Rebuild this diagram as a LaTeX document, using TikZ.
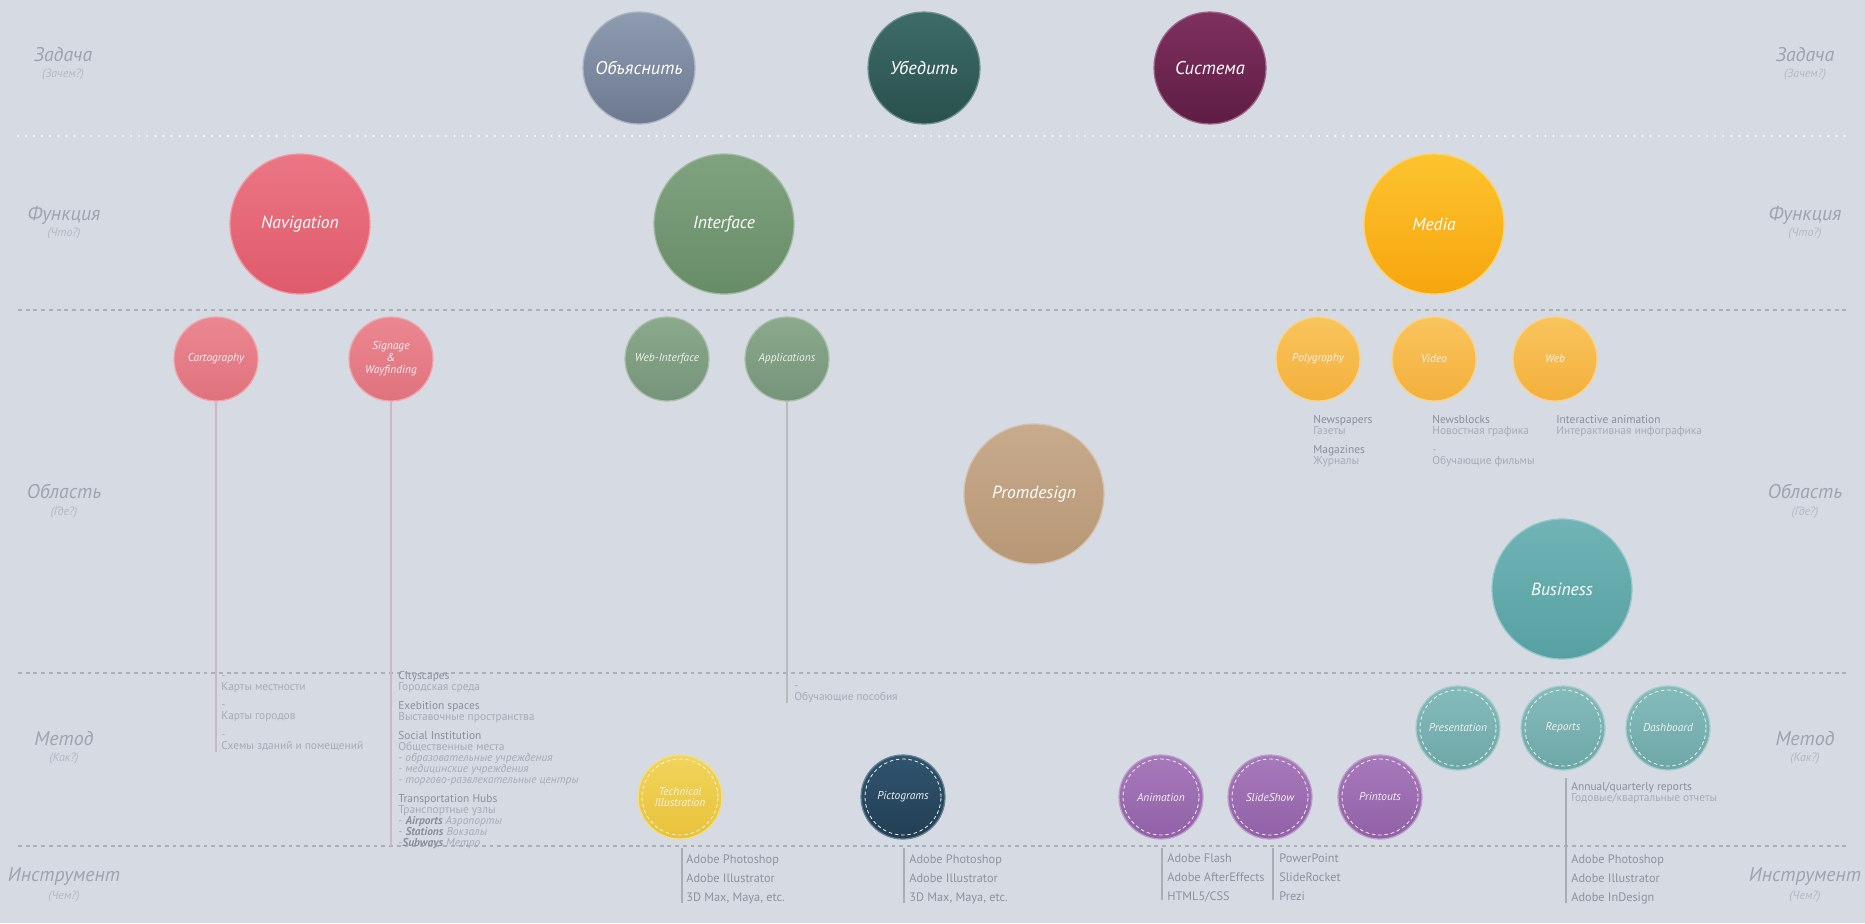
\documentclass[tikz,border=0pt]{standalone}
\usepackage{fontspec}
\setmainfont{PT Sans}
\definecolor{bg}{HTML}{D5DAE3}
\definecolor{labgray}{HTML}{9FA3AF}
\definecolor{subgray}{HTML}{B4B8C3}
\definecolor{hdgray}{HTML}{8B8F9B}
\definecolor{ltgray}{HTML}{A7ABB6}
\definecolor{toolgray}{HTML}{8E929F}
\definecolor{sepgray}{HTML}{AAAFBA}
\definecolor{navline}{HTML}{CDB6C2}
\definecolor{appline}{HTML}{B7BCB8}
\definecolor{toolline}{HTML}{A9ADB8}
\definecolor{explT}{HTML}{8F9BAF}\definecolor{explB}{HTML}{6C798F}
\definecolor{convT}{HTML}{3D6C68}\definecolor{convB}{HTML}{29504D}
\definecolor{sysT}{HTML}{7F305F}\definecolor{sysB}{HTML}{5E1D44}
\definecolor{navT}{HTML}{EB7684}\definecolor{navB}{HTML}{DF5A6B}
\definecolor{ifT}{HTML}{80A37F}\definecolor{ifB}{HTML}{678C68}
\definecolor{medT}{HTML}{FCC42E}\definecolor{medB}{HTML}{F7A50E}
\definecolor{pinkT}{HTML}{EB8791}\definecolor{pinkB}{HTML}{DF727D}
\definecolor{grnT}{HTML}{8BA98B}\definecolor{grnB}{HTML}{75947A}
\definecolor{orT}{HTML}{F9C45C}\definecolor{orB}{HTML}{F3B03C}
\definecolor{promT}{HTML}{C7AB8D}\definecolor{promB}{HTML}{B79775}
\definecolor{bizT}{HTML}{70B4B5}\definecolor{bizB}{HTML}{57A0A2}
\definecolor{tealT}{HTML}{85BBBB}\definecolor{tealB}{HTML}{6EA7A8}
\definecolor{yelT}{HTML}{F1D55A}\definecolor{yelB}{HTML}{E8C23B}
\definecolor{navyT}{HTML}{30556F}\definecolor{navyB}{HTML}{223E54}
\definecolor{purT}{HTML}{A77ABB}\definecolor{purB}{HTML}{9160A7}
\tikzset{
  circ/.style={circle, inner sep=0pt, text=white, align=center},
  grad/.style 2 args={top color=#1, bottom color=#2, draw=#1!75!white, line width=0.7pt},
  taskcirc/.style={circ, minimum size=2.24cm, font=\fontsize{10.5}{12}\selectfont\itshape},
  bigcirc/.style={circ, minimum size=2.8cm, font=\fontsize{10}{12}\selectfont\itshape},
  smallcirc/.style={circ, minimum size=1.68cm, font=\fontsize{6.5}{6.8}\selectfont\itshape, text=white!88!gray},
  stitched/.style={smallcirc, path picture={\draw[white!90!gray, line width=0.45pt, dash pattern=on 2pt off 1.6pt] (path picture bounding box.center) circle (0.76cm);}},
  rowlab/.style={font=\fontsize{11.3}{13}\selectfont\itshape, text=labgray, inner sep=0pt},
  rowsub/.style={font=\fontsize{6.8}{8}\selectfont\itshape, text=subgray, inner sep=0pt},
  sep/.style={sepgray, line width=0.6pt, dash pattern=on 2.2pt off 2.2pt},
  detail/.style={anchor=north west, inner sep=0pt, align=left, text=ltgray, font=\fontsize{6.5}{6.26}\selectfont},
  tools/.style={anchor=north west, inner sep=0pt, align=left, text=toolgray, font=\fontsize{7}{10.8}\selectfont},
}
\newcommand\hd[1]{{\color{hdgray}#1}}
\newcommand\gp{\\[4.5pt]}
\begin{document}
\begin{tikzpicture}[x=0.02cm,y=-0.02cm]
\fill[bg] (0,0) rectangle (1865,923);
\useasboundingbox (0,0) rectangle (1865,923);

% separators
\draw[white, line width=1.3pt, line cap=round, dash pattern=on 0pt off 4.6pt] (18,136) -- (1850,136);
\draw[sep] (18,310) -- (1850,310);
\draw[sep] (18,673) -- (1850,673);
\draw[sep] (18,846) -- (1850,846);

% row labels left
\node[rowlab] (lz) at (63,55) {Задача};
\node[rowsub] (lzs) at (63,75) {(Зачем?)};
\node[rowlab] (lf) at (64,215) {Функция};
\node[rowsub] (lfs) at (64,234) {(Что?)};
\node[rowlab] (lo) at (64,491) {Область};
\node[rowsub] (los) at (64,513) {(Где?)};
\node[rowlab] (lm) at (64,739) {Метод};
\node[rowsub] (lms) at (64,759) {(Как?)};
\node[rowlab] (li) at (64,877) {Инструмент};
\node[rowsub] (lis) at (64,897) {(Чем?)};
% row labels right
\node[rowlab] (rz) at (1805,55) {Задача};
\node[rowsub] (rzs) at (1805,75) {(Зачем?)};
\node[rowlab] (rf) at (1805,215) {Функция};
\node[rowsub] (rfs) at (1805,234) {(Что?)};
\node[rowlab] (ro) at (1805,491) {Область};
\node[rowsub] (ros) at (1805,513) {(Где?)};
\node[rowlab] (rm) at (1805,739) {Метод};
\node[rowsub] (rms) at (1805,759) {(Как?)};
\node[rowlab] (ri) at (1805,877) {Инструмент};
\node[rowsub] (ris) at (1805,897) {(Чем?)};

% task circles
\node[taskcirc, grad={explT}{explB}] (explain) at (639,68) {Объяснить};
\node[taskcirc, grad={convT}{convB}] (convince) at (924,68) {Убедить};
\node[taskcirc, grad={sysT}{sysB}] (system) at (1210,68) {Система};

% function circles
\node[bigcirc, grad={navT}{navB}] (nav) at (300,224) {Navigation};
\node[bigcirc, grad={ifT}{ifB}] (iface) at (724,224) {Interface};
\node[bigcirc, grad={medT}{medB}] (media) at (1434,224) {Media};

% area circles
\node[smallcirc, grad={pinkT}{pinkB}] (carto) at (216,359) {Cartography};
\node[smallcirc, grad={pinkT}{pinkB}] (sign) at (391,359) {Signage\\\&\\Wayfinding};
\node[smallcirc, grad={grnT}{grnB}] (webi) at (667,359) {Web-Interface};
\node[smallcirc, grad={grnT}{grnB}] (apps) at (787,359) {Applications};
\node[smallcirc, grad={orT}{orB}] (poly) at (1318,359) {Polygraphy};
\node[smallcirc, grad={orT}{orB}] (video) at (1434,359) {Video};
\node[smallcirc, grad={orT}{orB}] (web) at (1555,359) {Web};
\node[bigcirc, grad={promT}{promB}] (prom) at (1034,494) {Promdesign};
\node[bigcirc, grad={bizT}{bizB}] (biz) at (1562,589) {Business};

% method circles
\node[stitched, grad={tealT}{tealB}] (pres) at (1458,728) {Presentation};
\node[stitched, grad={tealT}{tealB}] (rep) at (1563,728) {Reports};
\node[stitched, grad={tealT}{tealB}] (dboard) at (1668,728) {Dashboard};
\node[stitched, grad={yelT}{yelB}] (tech) at (680,797) {Technical\\Illustration};
\node[stitched, grad={navyT}{navyB}] (picto) at (903,797) {Pictograms};
\node[stitched, grad={purT}{purB}] (anim) at (1161,797) {Animation};
\node[stitched, grad={purT}{purB}] (slides) at (1270,797) {SlideShow};
\node[stitched, grad={purT}{purB}] (prints) at (1380,797) {Printouts};

% vertical connectors
\coordinate (cartoend) at (216,752);
\coordinate (signend) at (391,846);
\coordinate (appsend) at (787,703);
\draw[navline, line width=0.6pt] (carto.south) -- (cartoend);
\draw[navline, line width=0.6pt] (sign.south) -- (signend);
\draw[appline, line width=0.6pt] (apps.south) -- (appsend);

\coordinate (repA) at (1566,778);
\coordinate (repB) at (1566,903);
\draw[toolline, line width=0.6pt] (repA) -- (repB);
\coordinate (techA) at (682,848);
\coordinate (techB) at (682,903);
\draw[toolline, line width=0.6pt] (techA) -- (techB);
\coordinate (pictoA) at (904,848);
\coordinate (pictoB) at (904,903);
\draw[toolline, line width=0.6pt] (pictoA) -- (pictoB);
\coordinate (animA) at (1162,848);
\coordinate (animB) at (1162,900);
\draw[toolline, line width=0.6pt] (animA) -- (animB);
\coordinate (slidesA) at (1273,848);
\coordinate (slidesB) at (1273,900);
\draw[toolline, line width=0.6pt] (slidesA) -- (slidesB);

% detail texts
\node[detail] (cartotxt) at (221,675) {-\\Карты местности\gp -\\Карты городов\gp -\\Схемы зданий и помещений};
\node[detail] (signtxt) at (398,671) {\hd{Cityscapes}\\Городская среда\gp
  \hd{Exebition spaces}\\Выставочные пространства\gp
  \hd{Social Institution}\\Общественные места\\{\itshape - образовательные учреждения}\\{\itshape - медицинские учреждения}\\{\itshape - торгово-развлекательные центры}\gp
  \hd{Transportation Hubs}\\Транспортные узлы\\- {\bfseries\itshape\color{hdgray}Airports} {\itshape Аэропорты}\\- {\bfseries\itshape\color{hdgray}Stations} {\itshape Вокзалы}\\-{\bfseries\itshape\color{hdgray}Subways} {\itshape Метро}};
\node[detail] (appstxt) at (794,685) {-\\Обучающие пособия};
\node[detail] (polytxt) at (1313,415) {\hd{Newspapers}\\Газеты\gp \hd{Magazines}\\Журналы};
\node[detail] (videotxt) at (1432,415) {\hd{Newsblocks}\\Новостная графика\gp -\\Обучающие фильмы};
\node[detail] (webtxt) at (1556,415) {\hd{Interactive animation}\\Интерактивная инфографика};
\node[detail] (reptxt) at (1571,782) {\hd{Annual/quarterly reports}\\Годовые/квартальные отчеты};

% tools
\node[tools] (techtools) at (686,854) {Adobe Photoshop\\Adobe Illustrator\\3D Max, Maya, etc.};
\node[tools] (pictotools) at (909,854) {Adobe Photoshop\\Adobe Illustrator\\3D Max, Maya, etc.};
\node[tools] (animtools) at (1167,853) {Adobe Flash\\Adobe AfterEffects\\HTML5/CSS};
\node[tools] (slidetools) at (1279,853) {PowerPoint\\SlideRocket\\Prezi};
\node[tools] (reptools) at (1571,854) {Adobe Photoshop\\Adobe Illustrator\\Adobe InDesign};
\end{tikzpicture}
\end{document}
